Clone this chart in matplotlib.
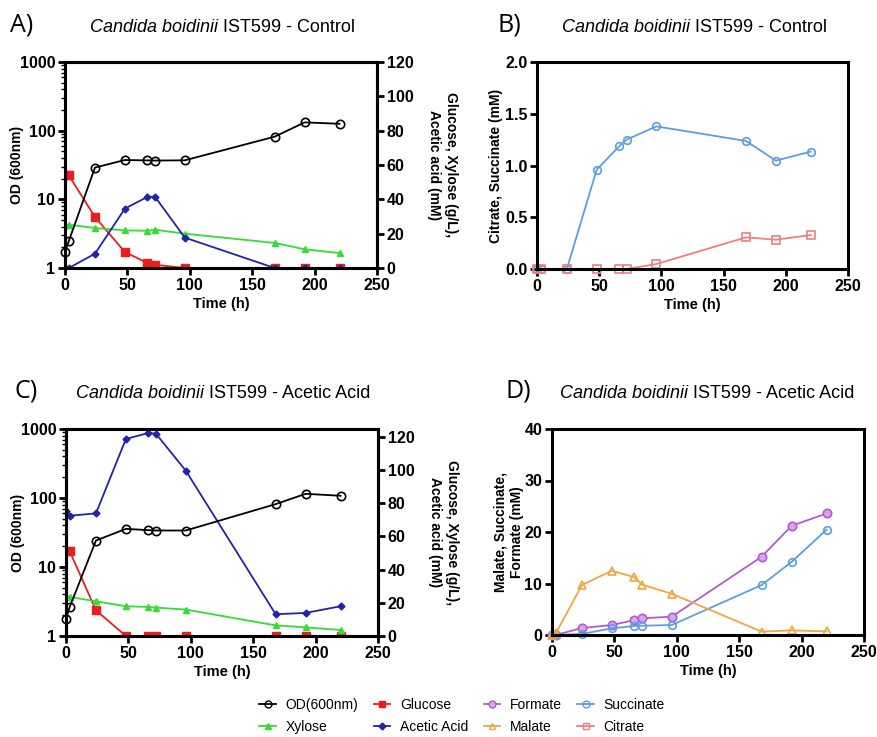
import numpy as np
import matplotlib.pyplot as plt
from matplotlib.lines import Line2D

# time points (h)
t = [0, 3, 24, 48, 66, 72, 96, 168, 192, 220]

# A) control
od_ctrl = [1.7, 2.45, 29, 37.4, 36.9, 36.7, 37, 81.8, 132, 126]
glc_ctrl = [54, 54, 29.7, 9.3, 2.9, 1.9, 0, 0, 0, 0]
xyl_ctrl = [25.2, 25.2, 23.3, 21.9, 21.7, 22.3, 20, 14.6, 10.9, 8.7]
ace_ctrl = [0, 0, 8.3, 34.6, 41.4, 41.6, 17.7, 0, 0, 0]

# B) control, organic acids
succ_ctrl = [0, 0, 0, 0.96, 1.185, 1.25, 1.378, 1.237, 1.047, 1.134]
citr_ctrl = [0, 0, 0, 0, 0, 0, 0.048, 0.306, 0.283, 0.328]

# C) acetic acid
od_ace = [1.79, 2.64, 24.2, 35.7, 34.2, 33.8, 33.8, 81.5, 115, 107.7]
glc_ace = [50.9, 50.9, 15.5, 0, 0, 0, 0, 0, 0, 0]
xyl_ace = [24.1, 23.5, 20.9, 17.9, 17.5, 17.1, 15.9, 6.4, 5.2, 3.6]
ace_ace = [75.2, 72.4, 73.8, 118.6, 122.2, 121.8, 99.5, 13.1, 13.9, 17.9]

# D) acetic acid, organic acids
form_ace = [0, 0, 1.36, 1.94, 2.9, 3.24, 3.56, 15.2, 21.2, 23.6]
succ_ace = [0, 0, 0.2, 1.3, 1.75, 1.8, 1.94, 9.7, 14.2, 20.45]
mal_ace = [0, 0.3, 9.7, 12.5, 11.2, 9.8, 8.0, 0.65, 0.9, 0.7]

C_OD = 'black'
C_GLC = '#ee1c1c'
C_XYL = '#33dd33'
C_ACE = '#2323a8'
C_FORM = '#b25ad0'
C_SUCC = '#5b9fe0'
C_MAL = '#f2a541'
C_CIT = '#f07f7f'

plt.rcParams['font.family'] = ['Liberation Sans', 'DejaVu Sans']
plt.rcParams['font.weight'] = 'bold'

W, H = 877, 737
fig = plt.figure(figsize=(W / 100, H / 100), dpi=100)


def box(x0, x1, ytop, ybot):
    return [x0 / W, 1 - ybot / H, (x1 - x0) / W, (ybot - ytop) / H]


def style(ax):
    for s in ax.spines.values():
        s.set_linewidth(2.2)
    ax.tick_params(axis='both', which='major', width=2, length=5,
                   labelsize=11.5, pad=2)
    for lab in ax.get_xticklabels() + ax.get_yticklabels():
        lab.set_fontweight('bold')


def title(letter, xl, x_split, y, rest):
    fig.text(xl / W, 1 - (y - 2) / H, letter, fontsize=18, family='Open Sans',
             fontweight='normal', va='center', ha='left')
    fig.text(x_split / W, 1 - y / H, 'Candida boidinii', fontsize=13,
             family='Liberation Sans', style='italic', fontweight='normal',
             va='center', ha='right')
    fig.text(x_split / W, 1 - y / H, ' ' + rest, fontsize=13,
             family='Liberation Sans', fontweight='normal', va='center',
             ha='left')


def od_panel(rect, od, glc, xyl, ace, top):
    ax = fig.add_axes(rect)
    ax2 = ax.twinx()
    ax.set_zorder(ax2.get_zorder() + 1)
    ax.patch.set_visible(False)
    ax.set_yscale('log')
    ax.set_ylim(1, 1000)
    ax.set_xlim(0, 250)
    ax.set_yticks([1, 10, 100, 1000])
    ax.set_yticklabels(['1', '10', '100', '1000'])
    ax.set_xticks([0, 50, 100, 150, 200, 250])
    ax.tick_params(axis='y', which='minor', width=1, length=3)
    ax2.plot(t, glc, color=C_GLC, marker='s', ms=6, lw=1.3)
    ax2.plot(t, xyl, color=C_XYL, marker='^', ms=5, lw=1.3)
    ax2.plot(t, ace, color=C_ACE, marker='D', ms=3.5, lw=1.3)
    ax.plot(t, od, color=C_OD, marker='o', ms=6, mfc='none', mew=1.2, lw=1.3,
            clip_on=False)
    ax2.set_ylim(0, top)
    ax2.set_yticks([0, 20, 40, 60, 80, 100, 120])
    ax.set_ylabel('OD (600nm)', fontsize=10, fontweight='bold')
    ax.yaxis.set_label_coords(-0.131, 0.5)
    ax2.set_ylabel('Glucose, Xylose (g/L),\nAcetic acid (mM)', fontsize=10,
                   fontweight='bold', rotation=270, va='center', ha='center')
    ax2.yaxis.set_label_coords(1.21, 0.5)
    ax.set_xlabel('Time (h)', fontsize=10.5, fontweight='bold')
    ax.xaxis.set_label_coords(0.5, -0.14)
    style(ax)
    style(ax2)
    return ax


# A
od_panel(box(65, 377, 62, 268), od_ctrl, glc_ctrl, xyl_ctrl, ace_ctrl, 120)
title('A)', 10, 218, 27, 'IST599 - Control')

# B
axb = fig.add_axes(box(537, 848, 62, 269))
axb.plot(t, succ_ctrl, color=C_SUCC, marker='o', ms=5.5, mfc='none', mew=1.2,
         lw=1.3, clip_on=False)
axb.plot(t, citr_ctrl, color=C_CIT, marker='s', ms=6, mfc='none', mew=1.2,
         lw=1.3, clip_on=False)
axb.set_xlim(0, 250)
axb.set_ylim(0, 2.0)
axb.set_yticks([0, 0.5, 1.0, 1.5, 2.0])
axb.set_yticklabels(['0.0', '0.5', '1.0', '1.5', '2.0'])
axb.set_xticks([0, 50, 100, 150, 200, 250])
axb.set_ylabel('Citrate, Succinate (mM)', fontsize=10, fontweight='bold')
axb.yaxis.set_label_coords(-0.11, 0.5)
axb.set_xlabel('Time (h)', fontsize=10.5, fontweight='bold')
axb.xaxis.set_label_coords(0.5, -0.14)
style(axb)
title('B)', 498, 690, 27, 'IST599 - Control')

# C
od_panel(box(66, 378, 429, 636), od_ace, glc_ace, xyl_ace, ace_ace, 124.6)
title('C)', 14, 204, 393, 'IST599 - Acetic Acid')

# D
axd = fig.add_axes(box(552, 864, 429, 635))
axd.plot(t, form_ace, color=C_FORM, marker='o', ms=6, mfc='#d8a6ec', mew=1.2,
         lw=1.3, clip_on=False)
axd.plot(t, succ_ace, color=C_SUCC, marker='o', ms=5.5, mfc='none', mew=1.2,
         lw=1.3, clip_on=False)
axd.plot(t, mal_ace, color=C_MAL, marker='^', ms=6, mfc='none', mew=1.2,
         lw=1.3, clip_on=False)
axd.set_xlim(0, 250)
axd.set_ylim(0, 40)
axd.set_yticks([0, 10, 20, 30, 40])
axd.set_xticks([0, 50, 100, 150, 200, 250])
axd.set_ylabel('Malate, Succinate,\nFormate (mM)', fontsize=10,
               fontweight='bold', va='center', ha='center')
axd.yaxis.set_label_coords(-0.138, 0.5)
axd.set_xlabel('Time (h)', fontsize=10.5, fontweight='bold')
axd.xaxis.set_label_coords(0.5, -0.14)
style(axd)
title('D)', 506, 688, 393, 'IST599 - Acetic Acid')

# legend
handles = [
    Line2D([], [], color=C_OD, marker='o', ms=5, mfc='none', lw=1.3),
    Line2D([], [], color=C_XYL, marker='^', ms=5, lw=1.3),
    Line2D([], [], color=C_GLC, marker='s', ms=5, lw=1.3),
    Line2D([], [], color=C_ACE, marker='D', ms=3.5, lw=1.3),
    Line2D([], [], color=C_FORM, marker='o', ms=5, mfc='#d8a6ec', lw=1.3),
    Line2D([], [], color=C_MAL, marker='^', ms=5, mfc='none', lw=1.3),
    Line2D([], [], color=C_SUCC, marker='o', ms=5, mfc='none', lw=1.3),
    Line2D([], [], color=C_CIT, marker='s', ms=5, mfc='none', lw=1.3),
]
labels = ['OD(600nm)', 'Xylose', 'Glucose', 'Acetic Acid',
          'Formate', 'Malate', 'Succinate', 'Citrate']
leg = fig.legend(handles, labels, ncol=4, loc='center',
                 bbox_to_anchor=(462 / W, 1 - 716 / H), frameon=False,
                 prop={'family': 'Liberation Sans', 'size': 10,
                       'weight': 'normal'},
                 handlelength=1.2, handletextpad=0.7, columnspacing=1.1,
                 labelspacing=0.6)

fig.savefig('out.png', dpi=100)
